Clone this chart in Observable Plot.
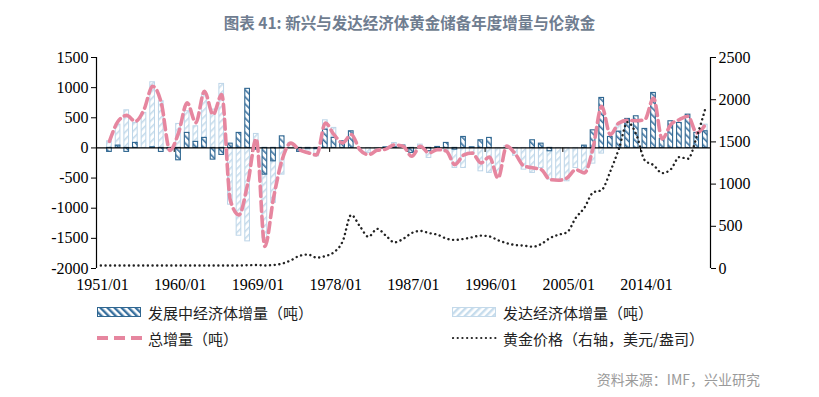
<!DOCTYPE html>
<html><head><meta charset="utf-8">
<script src="https://cdn.jsdelivr.net/npm/d3@7"></script>
<script src="https://cdn.jsdelivr.net/npm/@observablehq/plot@0.6"></script>
<style>
body{margin:0;background:#fff;}
#wrap{position:relative;width:819px;height:397px;overflow:hidden;font-family:"Noto Sans CJK SC",sans-serif;background:#fff;}
#title{position:absolute;left:0;top:0;width:819px;height:44px;line-height:44px;text-align:center;font-weight:bold;font-size:15.5px;color:#6f7d90;}
#chart{position:absolute;left:0;top:44px;}
.leg{position:absolute;height:20px;display:flex;align-items:center;font-size:15px;color:#222;white-space:nowrap;}
.leg svg{margin-right:6px;}
#source{position:absolute;right:59px;top:369px;height:20px;line-height:20px;font-size:14px;color:#9a9a9a;}
</style></head>
<body>
<div id="wrap">
  <div id="title">图表 41: 新兴与发达经济体黄金储备年度增量与伦敦金</div>
  <div id="chart"></div>
  <div class="leg" style="left:97px;top:302px;"><svg width="45" height="12"><rect x="0.5" y="1.5" width="43" height="9" fill="url(#hatchDarkL)" stroke="#2f6690"/></svg>发展中经济体增量（吨）</div>
  <div class="leg" style="left:452px;top:302px;"><svg width="45" height="12"><rect x="0.5" y="1.5" width="43" height="9" fill="url(#hatchLightL)" stroke="#c3d9ea"/></svg>发达经济体增量（吨）</div>
  <div class="leg" style="left:97px;top:328px;"><svg width="45" height="12"><line x1="0" y1="6" x2="45" y2="6" stroke="#e6869f" stroke-width="4" stroke-dasharray="11 6"/></svg>总增量（吨）</div>
  <div class="leg" style="left:452px;top:328px;"><svg width="45" height="12"><line x1="1" y1="6" x2="45" y2="6" stroke="#222" stroke-width="2.2" stroke-linecap="round" stroke-dasharray="0.1 4.6"/></svg>黄金价格（右轴，美元/盎司）</div>
  <div id="source">资料来源：IMF，兴业研究</div>
</div>
<script>
// ---- data ----
const years = d3.range(1952, 2022);
const developing = [-66,38,-66,83,0,10,-66,-20,-205,249,100,166,-194,-116,71,249,980,-30,-443,-222,
  192,0,-66,-10,-20,303,166,110,276,0,0,0,10,10,40,-83,0,-55,16,83,
  -28,182,10,127,166,0,0,0,0,127,71,-55,0,0,0,38,292,829,182,270,
  481,525,315,912,150,442,414,552,249,276];
const developed = [110,349,624,332,581,1079,774,-20,398,359,259,719,636,1062,-941,-1456,-1550,232,-1057,-690,
  -443,83,0,-30,-120,155,166,0,0,-20,-83,-66,0,71,0,0,55,-111,0,-60,
  -304,-332,-111,-388,-415,-470,28,-130,-360,-415,-332,-470,-553,-553,-332,-415,-260,-94,0,116,
  0,0,0,0,0,0,0,0,0,110];
const total = [110,442,540,440,636,1023,747,-40,249,747,420,940,553,885,-870,-1110,-600,150,-1633,-830,
  -194,80,-30,-80,-116,414,220,83,222,-30,-111,-40,-20,50,28,-139,28,-83,-28,-50,
  -277,-120,-83,-250,-150,-500,30,-100,-300,-330,-360,-525,-536,-497,-360,-415,0,690,220,414,
  458,450,470,829,150,386,470,525,249,386];
const goldYears = d3.range(1951, 2022);
const goldPrice = [35,35,35,35,35,35,35,35,35,35,35,35,35,35,35,35,35,39,41,36,
  41,58,97,150,165,128,148,193,320,635,500,376,470,390,310,350,420,445,420,400,
  355,338,350,370,390,380,335,300,278,270,258,290,360,400,430,600,720,900,930,1150,
  1420,1734,1590,1280,1225,1130,1175,1320,1300,1560,1893];
const xTickYears = [1951,1960,1969,1978,1987,1996,2005,2014];
const xTickLabels = ["1951/01","1960/01","1969/01","1978/01","1987/01","1996/01","2005/01","2014/01"];
const leftTicks = [-2000,-1500,-1000,-500,0,500,1000,1500];
const rightTicks = [0,500,1000,1500,2000,2500];

// ---- derived ----
const xDomain = [1951, 2022.1];
const yDomain = [-2000, 1500];
const rightDomain = [0, 2500];
const toLeft = g => yDomain[0] + (g - rightDomain[0]) * (yDomain[1]-yDomain[0])/(rightDomain[1]-rightDomain[0]);
const fromLeft = v => Math.round(rightDomain[0] + (v - yDomain[0]) * (rightDomain[1]-rightDomain[0])/(yDomain[1]-yDomain[0]));
const halfW = 0.27;
const rows = years.map((yr, i) => {
  const d = developing[i], a = developed[i];
  const base = (Math.sign(a) === Math.sign(d) && d !== 0) ? d : 0;
  return {t: yr + 0.5, dev: d, a0: base, a1: base + a, total: total[i]};
});
const gold = goldYears.map((yr, i) => ({t: yr + 0.5, g: toLeft(goldPrice[i])}));

const chart = Plot.plot({
  width: 819, height: 258,
  marginTop: 13, marginBottom: 34, marginLeft: 96, marginRight: 109,
  x: {domain: xDomain},
  y: {domain: yDomain},
  style: {fontFamily: '"Liberation Serif", "Times New Roman", serif', fontSize: "16px", color: "#000", background: "transparent", overflow: "visible"},
  marks: [
    Plot.rect(rows, {x1: d => d.t - halfW, x2: d => d.t + halfW, y1: d => d.a0, y2: d => d.a1,
      fill: "url(#hatchLight)", stroke: "#bdd5e8", strokeWidth: 1}),
    Plot.rect(rows, {x1: d => d.t - halfW, x2: d => d.t + halfW, y1: 0, y2: d => d.dev,
      fill: "url(#hatchDark)", stroke: "#2f6690", strokeWidth: 1.1}),
    Plot.ruleY([0], {stroke: "#000", strokeWidth: 1.2}),
    Plot.ruleX(xTickYears, {x: d => d, y1: 0, y2: -75, stroke: "#000", strokeWidth: 1}),
    Plot.ruleX([xDomain[0]], {y1: yDomain[0], y2: yDomain[1], stroke: "#000", strokeWidth: 1.2}),
    Plot.ruleX([xDomain[1]], {y1: yDomain[0], y2: yDomain[1], stroke: "#000", strokeWidth: 1.2}),
    Plot.line(rows, {x: "t", y: "total", stroke: "#e6869f", strokeWidth: 3.6, strokeDasharray: "10 5", curve: "monotone-x"}),
    Plot.line(gold, {x: "t", y: "g", stroke: "#222", strokeWidth: 2.4, strokeLinecap: "round", strokeDasharray: "0.1 4.6", curve: "monotone-x"}),
    Plot.axisY(leftTicks, {anchor: "left", tickSize: 5, tickPadding: 3, fontSize: 16, tickFormat: d => String(d), label: null}),
    Plot.axisY(rightTicks.map(toLeft), {anchor: "right", tickSize: 5, tickPadding: 3, fontSize: 16, tickFormat: d => String(fromLeft(d)), label: null}),
    Plot.axisX(xTickYears, {anchor: "bottom", tickSize: 0, tickPadding: 10, dx: 6, fontSize: 16, tickFormat: d => xTickLabels[xTickYears.indexOf(d)], label: null})
  ]
});
chart.insertAdjacentHTML("afterbegin",
  '<defs>' +
  '<pattern id="hatchDark" patternUnits="userSpaceOnUse" width="5" height="5" patternTransform="rotate(-45)"><rect width="1.6" height="5" fill="#3b72a0"/></pattern>' +
  '<pattern id="hatchLight" patternUnits="userSpaceOnUse" width="5" height="5" patternTransform="rotate(45)"><rect width="1.6" height="5" fill="#c6dcec"/></pattern>' +
  '<pattern id="hatchDarkL" patternUnits="userSpaceOnUse" width="5" height="5" patternTransform="rotate(-45)"><rect width="2.4" height="5" fill="#3b72a0"/></pattern>' +
  '<pattern id="hatchLightL" patternUnits="userSpaceOnUse" width="5" height="5" patternTransform="rotate(45)"><rect width="2.4" height="5" fill="#c6dcec"/></pattern>' +
  '</defs>');
document.getElementById("chart").appendChild(chart);
</script>
</body></html>
